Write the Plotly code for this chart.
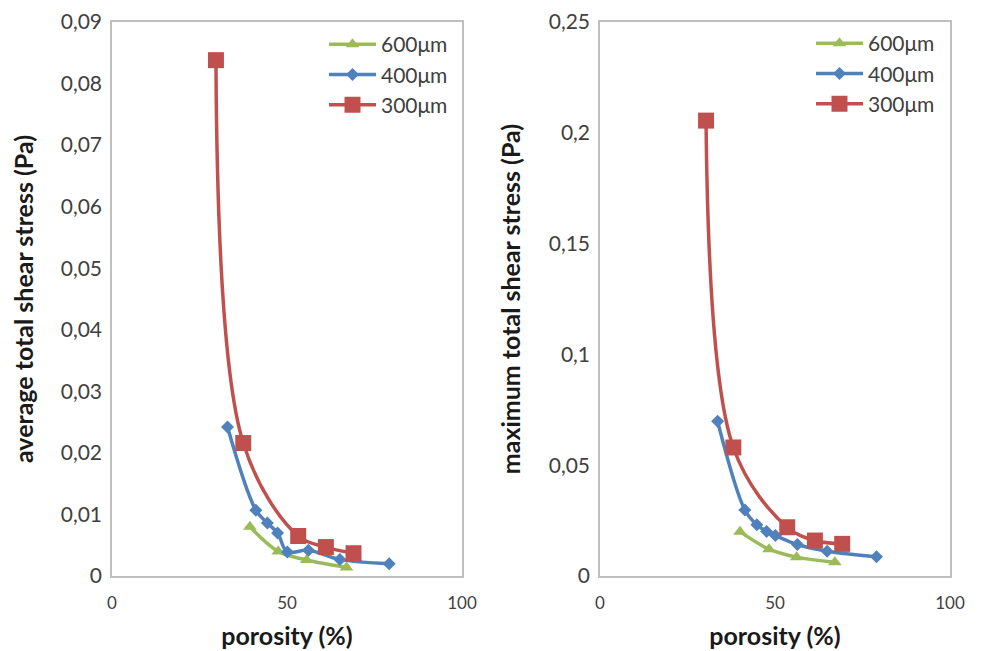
import plotly.graph_objects as go

# ---- data ----
x_600_avg = [39.4, 47.5, 55.6, 67.0]
y_600_avg = [0.0080, 0.0040, 0.0026, 0.0014]
x_400_avg = [33.0, 41.1, 44.4, 47.3, 50.1, 56.1, 65.1, 79.2]
y_400_avg = [0.0242, 0.0107, 0.0086, 0.0070, 0.0039, 0.0042, 0.0027, 0.0020]
x_300_avg = [29.7, 37.5, 53.2, 61.1, 69.0]
y_300_avg = [0.0838, 0.0216, 0.0065, 0.0047, 0.0037]

x_600_max = [40.0, 48.3, 56.2, 67.1]
y_600_max = [0.0200, 0.0121, 0.0085, 0.0062]
x_400_max = [33.6, 41.4, 44.8, 47.6, 50.1, 56.4, 64.9, 79.0]
y_400_max = [0.0698, 0.0298, 0.0231, 0.0201, 0.0183, 0.0142, 0.0112, 0.0087]
x_300_max = [30.3, 38.1, 53.5, 61.4, 69.2]
y_300_max = [0.2055, 0.0580, 0.0220, 0.0160, 0.0145]

series_names = ["600\u03bcm", "400\u03bcm", "300\u03bcm"]
x_ticks = [0, 50, 100]
y_ticks_avg = [0, 0.01, 0.02, 0.03, 0.04, 0.05, 0.06, 0.07, 0.08, 0.09]
y_ticktext_avg = ["0", "0,01", "0,02", "0,03", "0,04", "0,05", "0,06", "0,07", "0,08", "0,09"]
y_ticks_max = [0, 0.05, 0.1, 0.15, 0.2, 0.25]
y_ticktext_max = ["0", "0,05", "0,1", "0,15", "0,2", "0,25"]

colors = ["#9BBB59", "#4F81BD", "#C0504D"]
symbols = ["triangle-up", "diamond", "square"]
msizes = [12, 10, 16]
FONT = "Lato, 'Open Sans', sans-serif"

fig = go.Figure()

left = [(x_600_avg, y_600_avg), (x_400_avg, y_400_avg), (x_300_avg, y_300_avg)]
right = [(x_600_max, y_600_max), (x_400_max, y_400_max), (x_300_max, y_300_max)]

for i, (xs, ys) in enumerate(left):
    fig.add_trace(go.Scatter(
        x=xs, y=ys, name=series_names[i], mode="lines+markers",
        line=dict(color=colors[i], width=3.5, shape="spline", smoothing=1),
        marker=dict(symbol=symbols[i], size=msizes[i], color=colors[i]),
        xaxis="x", yaxis="y", legend="legend"))
for i, (xs, ys) in enumerate(right):
    fig.add_trace(go.Scatter(
        x=xs, y=ys, name=series_names[i], mode="lines+markers",
        line=dict(color=colors[i], width=3.5, shape="spline", smoothing=1),
        marker=dict(symbol=symbols[i], size=msizes[i], color=colors[i]),
        xaxis="x2", yaxis="y2", legend="legend2"))

W, H = 982, 651
OFF = 8  # page body margin


def px(v):
    return (v - OFF) / W


def py(v):
    return 1 - (v - OFF) / H


ydom = [py(576), py(22)]
common = dict(showgrid=False, zeroline=False, showline=True, linecolor="#BFBFBF",
              linewidth=1.5, mirror=True, ticks="", automargin=False, ticklabeloverflow="allow")
xcommon = dict(tickfont=dict(family=FONT, size=17, color="#404040"), ticklabelstandoff=11, **common)
ycommon = dict(tickfont=dict(family=FONT, size=21, color="#404040"), ticklabelstandoff=4, **common)
xtitle = dict(text="<b>porosity (%)</b>", font=dict(family=FONT, size=25, color="#1a1a1a"), standoff=15)
ytitle_font = dict(family=FONT, size=25, color="#1a1a1a")

legend_common = dict(yanchor="top", xanchor="left", bgcolor="rgba(0,0,0,0)",
                     font=dict(family=FONT, size=21, color="#404040"),
                     tracegroupgap=0, itemwidth=47)

fig.update_layout(
    width=W, height=H, margin=dict(l=0, r=0, t=0, b=0),
    paper_bgcolor="white", plot_bgcolor="white",
    font=dict(family=FONT),
    xaxis=dict(domain=[px(112), px(462)], range=[0, 100], tickvals=x_ticks, title=xtitle, **xcommon),
    yaxis=dict(domain=ydom, range=[0, 0.09], tickvals=y_ticks_avg, ticktext=y_ticktext_avg,
               title=dict(text="<b>average total shear stress (Pa)</b>", font=ytitle_font, standoff=21),
               **ycommon),
    xaxis2=dict(domain=[px(600), px(950)], range=[0, 100], tickvals=x_ticks, anchor="y2",
                title=xtitle, **xcommon),
    yaxis2=dict(domain=ydom, range=[0, 0.25], tickvals=y_ticks_max, ticktext=y_ticktext_max,
                anchor="x2",
                title=dict(text="<b>maximum total shear stress (Pa)</b>", font=ytitle_font, standoff=21),
                **ycommon),
    legend=dict(x=px(324), y=py(24), **legend_common),
    legend2=dict(x=px(811), y=py(23), **legend_common),
    showlegend=True,
)

fig.write_html("out.html")
